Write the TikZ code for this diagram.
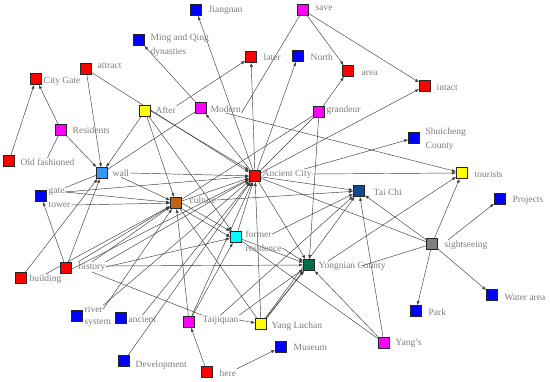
\documentclass[tikz,border=0pt]{standalone}
\usepackage{fontspec}
\setmainfont{Liberation Serif}
\usetikzlibrary{arrows.meta,backgrounds}
\definecolor{lbl}{RGB}{125,125,125}
\definecolor{edg}{RGB}{60,60,60}
\definecolor{cred}{RGB}{255,0,0}
\definecolor{cblue}{RGB}{0,0,255}
\definecolor{cmag}{RGB}{255,0,255}
\definecolor{cyel}{RGB}{255,255,0}
\definecolor{ccyan}{RGB}{0,255,255}
\definecolor{cgray}{RGB}{128,128,128}
\definecolor{wallc}{RGB}{51,153,255}
\definecolor{cultc}{RGB}{190,100,20}
\definecolor{taic}{RGB}{15,75,140}
\definecolor{yongc}{RGB}{0,110,70}
\begin{document}
\begin{tikzpicture}[x=1pt,y=-1pt,
 sq/.style={draw=black!85, line width=0.7pt, minimum size=11pt, inner sep=0pt},
 lb/.style={anchor=west, inner sep=0.5pt, text=lbl, font=\fontsize{9.5}{10.5}\selectfont},
 ed/.style={draw=edg, line width=0.45pt, -{Latex[length=4pt,width=3pt]}},
 ln/.style={draw=edg, line width=0.45pt}]
\useasboundingbox (0,0) rectangle (550,382);
% squares
\node[sq,fill=cblue] (jiang) at (196,10) {};
\node[sq,fill=cblue] (ming) at (139,40) {};
\node[sq,fill=cmag] (save) at (303,10) {};
\node[sq,fill=cred] (later) at (251,57) {};
\node[sq,fill=cblue] (north) at (298,56) {};
\node[sq,fill=cred] (area) at (348,71) {};
\node[sq,fill=cred] (intact) at (425,86) {};
\node[sq,fill=cred] (citygate) at (36,79) {};
\node[sq,fill=cred] (attract) at (86,69) {};
\node[sq,fill=cyel] (after) at (145,111) {};
\node[sq,fill=cmag] (modern) at (201,108) {};
\node[sq,fill=cmag] (grandeur) at (319,112) {};
\node[sq,fill=cmag] (residents) at (61,130) {};
\node[sq,fill=cblue] (shui) at (414,138) {};
\node[sq,fill=cred] (oldf) at (9,161) {};
\node[sq,fill=wallc] (wall) at (102,173) {};
\node[sq,fill=cred] (acity) at (255,176) {};
\node[sq,fill=cyel] (tourists) at (462,173) {};
\node[sq,fill=taic] (taichi) at (359,191) {};
\node[sq,fill=cblue] (gatet) at (41,196) {};
\node[sq,fill=cultc] (culture) at (176,203) {};
\node[sq,fill=cblue] (projects) at (500,199) {};
\node[sq,fill=ccyan] (formerres) at (236,237) {};
\node[sq,fill=cgray] (sight) at (432,244) {};
\node[sq,fill=yongc] (yong) at (309,265) {};
\node[sq,fill=cred] (building) at (21,278) {};
\node[sq,fill=cred] (history) at (66,268) {};
\node[sq,fill=cblue] (river) at (77,316) {};
\node[sq,fill=cblue] (ancient) at (121,318) {};
\node[sq,fill=cmag] (taiji) at (189,322) {};
\node[sq,fill=cyel] (yangl) at (261,324) {};
\node[sq,fill=cblue] (park) at (416,311) {};
\node[sq,fill=cblue] (water) at (492,295) {};
\node[sq,fill=cmag] (yangs) at (384,343) {};
\node[sq,fill=cblue] (devel) at (124,361) {};
\node[sq,fill=cblue] (museum) at (281,347) {};
\node[sq,fill=cred] (here) at (207,372) {};
% labels
\node[lb] (Ljiang) at (208,10) {Jiangnan};
\node[lb] (Lming1) at (150,38) {Ming and Qing};
\node[lb] (Lming2) at (150,52) {dynasties};
\node[lb] (Lsave) at (315,8) {save};
\node[lb] (Llater) at (263,57) {later};
\node[lb] (Lnorth) at (310,57) {North};
\node[lb] (Larea) at (361,73) {area};
\node[lb] (Lintact) at (436,87) {intact};
\node[lb] (Lcitygate) at (43,81) {City Gate};
\node[lb] (Lattract) at (97,66) {attract};
\node[lb] (Lafter) at (155,110) {After};
\node[lb] (Lmodern) at (210,109) {Modern};
\node[lb] (Lgrandeur) at (326,110) {grandeur};
\node[lb] (Lresidents) at (72,130) {Residents};
\node[lb] (Lshui1) at (425,132) {Shuicheng};
\node[lb] (Lshui2) at (425,146) {County};
\node[lb] (Loldf) at (20,162) {Old fashioned};
\node[lb] (Lwall) at (112,173) {wall};
\node[lb] (Lacity) at (262,174) {Ancient City};
\node[lb] (Ltourists) at (474,174) {tourists};
\node[lb] (Ltaichi) at (373,192) {Tai Chi};
\node[lb] (Lgate) at (48,192) {gate};
\node[lb] (Ltower) at (48,205) {tower};
\node[lb] (Lculture) at (189,200) {culture};
\node[lb] (Lprojects) at (512,200) {Projects};
\node[lb] (Lformer) at (245,234) {former};
\node[lb] (Lresid) at (245,248) {residence};
\node[lb] (Lsight) at (444,245) {sightseeing};
\node[lb] (Lyong) at (318,266) {Yongnian County};
\node[lb] (Lbuilding) at (29,279) {building};
\node[lb] (Lhistory) at (78,267) {history};
\node[lb] (Lriver1) at (84,309) {river};
\node[lb] (Lriver2) at (84,323) {system};
\node[lb] (Lancient) at (128,319) {ancient};
\node[lb] (Ltaiji) at (202,320) {Taijiquan};
\node[lb] (Lyangl) at (271,326) {Yang Luchan};
\node[lb] (Lpark) at (428,312) {Park};
\node[lb] (Lwater) at (504,297) {Water area};
\node[lb] (Lyangs) at (395,343) {Yang's};
\node[lb] (Ldevel) at (135,365) {Development};
\node[lb] (Lmuseum) at (293,347) {Museum};
\node[lb] (Lhere) at (219,373) {here};
% connectors
\begin{pgfonlayer}{background}
\fill[white] (0,0) rectangle (550,382);
\draw[ed] (oldf) -- (citygate);
\draw[ed] (residents) -- (citygate);
\draw[ln] (Loldf.north) -- (residents);
\draw[ed] (residents) -- (wall);
\draw[ed] (attract) -- (wall);
\draw[ed] (attract) -- (acity);
\draw[ed] (after.east) -- (acity.north west);
\draw[ed] (after) -- (wall);
\draw[ed] (after) -- (culture);
\draw[ed] (after) -- (formerres);
\draw[ed] (Lafter.north east) -- (later);
\draw[ln] (modern) -- (wall);
\draw[ed] (modern) -- (ming);
\draw[ed] (acity) -- (modern);
\draw[ln] (Lmodern.south east) -- (save);
\draw[ed] (acity) -- (jiang);
\draw[ed] (acity) -- (north);
\draw[ed] (acity) -- (later);
\draw[ed] (grandeur) -- (area);
\draw[ed] (save) -- (area);
\draw[ed] (save) -- (intact);
\draw[ed] (acity) -- (intact);
\draw[ln] (grandeur) -- (acity);
\draw[ln] (grandeur) -- (culture);
\draw[ed] (grandeur) -- (yong);
\draw[ed] ([xshift=-8pt]Lacity.north east) -- (shui);
\draw[ed] (Lacity.east) -- (tourists);
\draw[ed] (Lmodern.south) -- (tourists);
\draw[ed] (Lwall.east) -- (acity);
\draw[ed] (culture) -- (acity);
\draw[ed] (formerres) -- (acity);
\draw[ed] (Lgate.east) -- (acity);
\draw[ed] (Lriver1.north east) -- (acity);
\draw[ed] (Lancient.north) -- (acity);
\draw[ed] (devel) -- (acity);
\draw[ed] (taiji) -- (acity);
\draw[ed] (yangl) -- (acity);
\draw[ed] (Lbuilding.north east) -- (acity);
\draw[ed] (Lhistory.north east) -- (acity);
\draw[ed] (acity) -- (taichi);
\draw[ed] (acity) -- (yong);
\draw[ed] (sight) -- (tourists);
\draw[ed] ([xshift=4pt]Lsight.north west) -- (projects);
\draw[ed] (sight) -- (park);
\draw[ed] (sight) -- (water);
\draw[ed] (sight) -- (taichi);
\draw[ln] (sight) -- ([xshift=-25pt]Lyong.east);
\draw[ln] (sight) -- (acity);
\draw[ed] ([xshift=10pt]Lyong.north west) -- (tourists);
\draw[ed] (Lculture.east) -- (taichi);
\draw[ed] (culture.east) -- (formerres.north west);
\draw[ed] (culture.south east) -- (formerres.west);
\draw[ed] (formerres) -- (yong);
\draw[ed] (Lresid.east) -- (yong);
\draw[ed] (Lformer.east) -- (taichi);
\draw[ed] (yangs) -- (taichi);
\draw[ed] (yangs) -- (yong);
\draw[ln] (yangs) -- (formerres);
\draw[ed] (yangl.north east) -- (yong.south west);
\draw[ed] (yangl) -- (yong);
\draw[ln] (yangl) -- (culture);
\draw[ed] (yangl) -- (taichi);
\draw[ed] (Ltaiji.east) -- (yangl);
\draw[ed] (taiji) -- (culture);
\draw[ed] (taiji) -- (formerres);
\draw[ed] (Ltaiji.north east) -- (yong);
\draw[ed] (Ltaiji.north) -- (taichi);
\draw[ed] (here) -- (taiji);
\draw[ed] (Lhere.north east) -- (museum);
\draw[ed] (history) -- (wall);
\draw[ed] (history) -- (gatet);
\draw[ed] (Lhistory.north) -- (culture);
\draw[ed] (Lhistory.north west) -- (culture);
\draw[ed] (Lhistory.east) -- (formerres);
\draw[ed] ([yshift=1pt]Lhistory.east) -- (yong);
\draw[ln] (Lhistory.south) -- (Ltaiji.north west);
\draw[ed] (building) -- (wall);
\draw[ed] (Lbuilding.north) -- (culture);
\draw[ed] (Ltower.east) -- (culture);
\draw[ed] (Lgate.east) -- (culture);
\draw[ln] (Lgate.north east) -- (wall);
\draw[ed] (Lriver1.east) -- (culture);
\draw[ed] (Lwall.south) -- (culture);
\end{pgfonlayer}
\end{tikzpicture}
\end{document}
